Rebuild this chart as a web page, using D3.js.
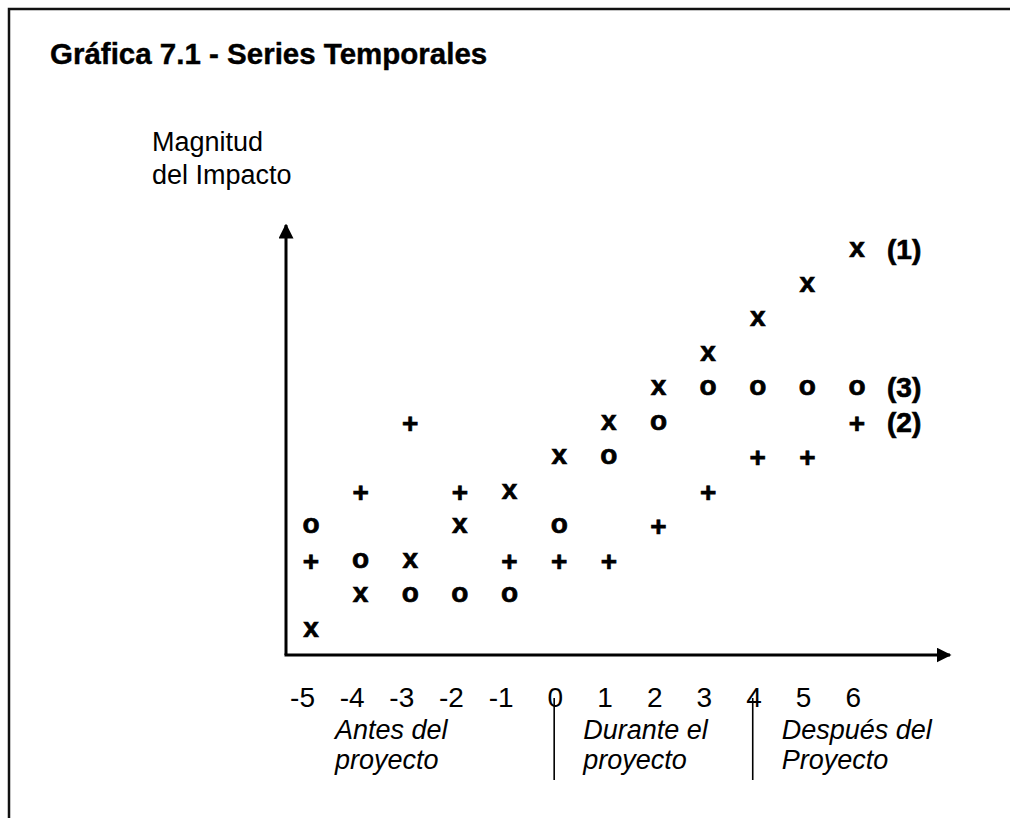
<meta charset="utf-8">
<head>
  <title>Series Temporales</title>
</head>

<style>
body { margin:0; background:#fff; }
text { font-family: "Liberation Sans", Arial, Helvetica, sans-serif; fill:#000; }
.mark { font-weight:bold; font-size:28px; stroke:#000; stroke-width:0.7px; }
.tick { font-size:28px; }
.phase { font-size:27px; font-style:italic; }
</style>

<body>
  <div id="content"></div>
  <script src="https://cdnjs.cloudflare.com/ajax/libs/d3/7.8.5/d3.min.js"></script>
  <script>

const width = 1010
const height = 818

// periodos (eje x)
var periods = [-5, -4, -3, -2, -1, 0, 1, 2, 3, 4, 5, 6];

// magnitud del impacto, por serie
var serie1 = [1, 2, 3, 4, 5, 6, 7, 8, 9, 10, 11, 12];   // x (1)
var serie2 = [3, 5, 7, 5, 3, 3, 3, 4, 5, 6, 6, 7];      // + (2)
var serie3 = [4, 3, 2, 2, 2, 4, 6, 7, 8, 8, 8, 8];      // o (3)

var seriesNames = ["(1)", "(2)", "(3)"];
var seriesSymbols = ["x", "+", "o"];

var phases = [
  { from: -5, lines: ["Antes del", "proyecto"] },
  { from: 0, lines: ["Durante el", "proyecto"] },
  { from: 4, lines: ["Después del", "Proyecto"] }
];
var phaseBreaks = [0, 4];

const svg = d3.select('#content')
  .append('svg')
    .attr('width', width)
    .attr('height', height)

// marco (solo se ven arriba e izquierda)
svg.append('rect')
  .attr('x', 9).attr('y', 9)
  .attr('width', 1200).attr('height', 1000)
  .attr('fill', 'none')
  .attr('stroke', '#111')
  .attr('stroke-width', 2.5)

svg.append('text')
  .attr('x', 50).attr('y', 64)
  .style('font-weight', 'bold')
  .style('font-size', '29.5px')
  .style('stroke', '#000')
  .style('stroke-width', '0.4px')
  .text('Gráfica 7.1 - Series Temporales')

svg.append('text')
  .attr('x', 152).attr('y', 151)
  .style('font-size', '27px')
  .text('Magnitud')
svg.append('text')
  .attr('x', 152).attr('y', 184)
  .style('font-size', '27px')
  .text('del Impacto')

var xScale = d3.scaleLinear()
  .domain([-5, 6])
  .range([311, 857])

var yScale = d3.scaleLinear()
  .domain([1, 12])
  .range([630, 250])

var x0 = 286, y0 = 655;

// ejes con flecha
svg.append('defs').append('marker')
  .attr('id', 'arrow')
  .attr('viewBox', '0 0 10 10')
  .attr('refX', 9).attr('refY', 5)
  .attr('markerWidth', 5).attr('markerHeight', 5)
  .attr('markerUnits', 'strokeWidth')
  .attr('orient', 'auto')
  .append('path')
    .attr('d', 'M0,0 L10,5 L0,10 z')
    .attr('fill', '#000')

svg.append('line')
  .attr('x1', x0).attr('y1', y0)
  .attr('x2', x0).attr('y2', 225)
  .attr('stroke', '#000').attr('stroke-width', 3)
  .attr('marker-end', 'url(#arrow)')

svg.append('line')
  .attr('x1', x0 - 1.5).attr('y1', y0)
  .attr('x2', 950).attr('y2', y0)
  .attr('stroke', '#000').attr('stroke-width', 3)
  .attr('marker-end', 'url(#arrow)')

// etiquetas del eje x
svg.selectAll('.tick')
  .data(periods)
  .enter()
  .append('text')
    .attr('class', 'tick')
    .attr('x', function(d) { return xScale(d) + 4 })
    .attr('y', 707)
    .attr('text-anchor', 'end')
    .text(function(d) { return d })

// fases del proyecto
var ph = svg.selectAll('.phase')
  .data(phases)
  .enter()
  .append('text')
    .attr('class', 'phase')

ph.selectAll('tspan')
  .data(function(d) { return d.lines.map(function(l) { return { t: l, from: d.from } }) })
  .enter()
  .append('tspan')
    .attr('x', function(d) { return xScale(d.from) + 24 })
    .attr('y', function(d, i) { return 739 + i * 30 })
    .text(function(d) { return d.t })

svg.selectAll('.sep')
  .data(phaseBreaks)
  .enter()
  .append('line')
    .attr('x1', function(d) { return xScale(d) - 5 })
    .attr('x2', function(d) { return xScale(d) - 5 })
    .attr('y1', 698).attr('y2', 780)
    .attr('stroke', '#000').attr('stroke-width', 1.6)

// puntos (simbolos de texto)
var allSeries = [serie1, serie2, serie3];
var dyBySymbol = { "x": 7, "o": 7, "+": 10 };

var nodes = [];
allSeries.forEach(function(s, k) {
  s.forEach(function(v, i) {
    nodes.push({ period: periods[i], value: v, sym: seriesSymbols[k] });
  });
});

svg.selectAll('.mark')
  .data(nodes)
  .enter()
  .append('text')
    .attr('class', 'mark')
    .attr('text-anchor', 'middle')
    .attr('x', function(d) { return xScale(d.period) })
    .attr('y', function(d) { return yScale(d.value) + dyBySymbol[d.sym] })
    .text(function(d) { return d.sym })

// nombres de serie al final
svg.selectAll('.sname')
  .data(allSeries)
  .enter()
  .append('text')
    .attr('class', 'mark')
    .attr('x', xScale(6) + 30)
    .attr('y', function(d) { return yScale(d[d.length - 1]) + 9 })
    .text(function(d, i) { return seriesNames[i] })

</script>
</body>
</html>
